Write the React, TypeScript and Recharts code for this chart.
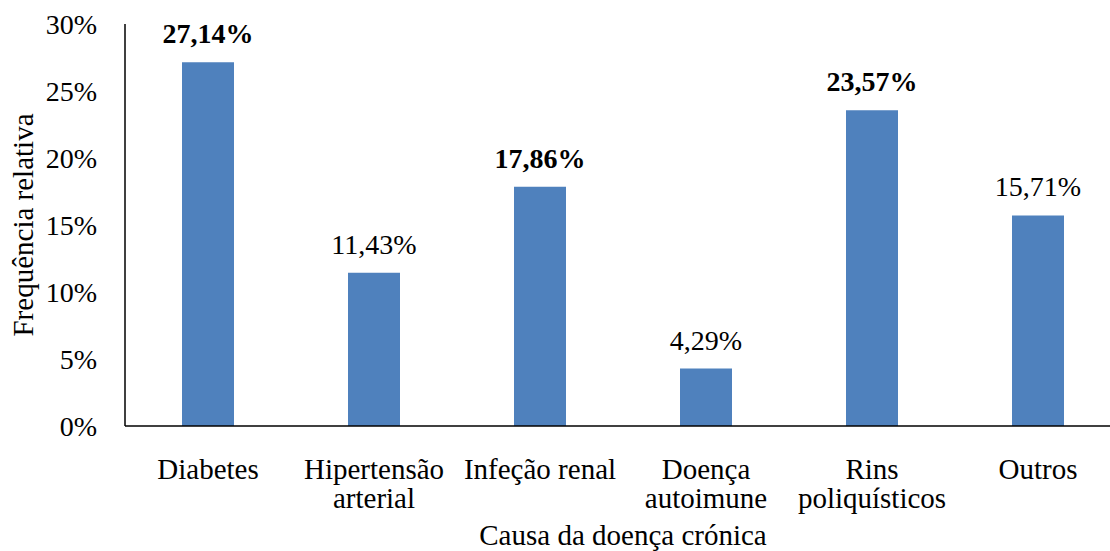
import React from "react";
import { BarChart, Bar, XAxis, YAxis, LabelList, Label } from "recharts";

const categories = [
  "Diabetes",
  "Hipertensão\narterial",
  "Infeção renal",
  "Doença\nautoimune",
  "Rins\npoliquísticos",
  "Outros",
];
const values = [27.14, 11.43, 17.86, 4.29, 23.57, 15.71];
const boldLabel = [true, false, true, false, true, false];
const yTicks = [0, 5, 10, 15, 20, 25, 30];
const yAxisTitle = "Frequência relativa";
const xAxisTitle = "Causa da doença crónica";

const data = categories.map((c, i) => ({ name: c, value: values[i] }));

const FONT = '"Liberation Serif", "Times New Roman", Times, serif';
const textStyle = { fontFamily: FONT, fontSize: 28, fill: "#000" };
const xStyle = { fontFamily: FONT, fontSize: 29, fill: "#000" };

const XTick = (props: any) => {
  const { x, y, payload } = props;
  const lines = String(payload.value).split("\n");
  return (
    <text x={x} y={y + 45} textAnchor="middle" style={xStyle}>
      {lines.map((l, i) => (
        <tspan key={i} x={x} dy={i === 0 ? 0 : 29}>
          {l}
        </tspan>
      ))}
    </text>
  );
};

const BarLabel = (props: any) => {
  const { x, y, width, value, index } = props;
  const bold = boldLabel[index];
  return (
    <text
      x={x + width / 2}
      y={y - 19}
      textAnchor="middle"
      style={{ ...textStyle, fontWeight: bold ? "bold" : "normal" }}
    >
      {Number(value).toFixed(2).replace(".", ",") + "%"}
    </text>
  );
};

export default function App() {
  return (
    <div
      style={{
        position: "absolute",
        left: 0,
        top: 0,
        width: 1110,
        height: 551,
        overflow: "hidden",
        background: "#fff",
        fontFamily: FONT,
      }}
    >
      <BarChart
        width={1121}
        height={551}
        data={data}
        margin={{ top: 24, right: 0, bottom: 0, left: 0 }}
        style={{ fontFamily: FONT }}
      >
        <XAxis
          dataKey="name"
          height={125}
          axisLine={{ stroke: "#000", strokeWidth: 1.5 }}
          tickLine={false}
          tick={<XTick />}
          interval={0}
        >
          <Label
            content={(p: any) => {
              const vb = p.viewBox;
              return (
                <text
                  x={vb.x + vb.width / 2}
                  y={vb.y + 119}
                  textAnchor="middle"
                  style={xStyle}
                >
                  {xAxisTitle}
                </text>
              );
            }}
          />
        </XAxis>
        <YAxis
          width={125}
          domain={[0, 30]}
          ticks={yTicks}
          tickFormatter={(v: number) => `${v}%`}
          axisLine={{ stroke: "#000", strokeWidth: 1.5 }}
          tickLine={false}
          tickSize={0}
          tickMargin={28}
          tick={{ style: textStyle, fontFamily: FONT, fontSize: 28, fill: "#000" }}
        >
          <Label
            content={(p: any) => {
              const vb = p.viewBox;
              const cx = vb.x + 33;
              const cy = vb.y + vb.height / 2;
              return (
                <text
                  x={cx}
                  y={cy}
                  transform={`rotate(-90, ${cx}, ${cy})`}
                  textAnchor="middle"
                  style={xStyle}
                >
                  {yAxisTitle}
                </text>
              );
            }}
          />
        </YAxis>
        <Bar dataKey="value" fill="#4F81BD" barSize={52} isAnimationActive={false}>
          <LabelList dataKey="value" content={<BarLabel />} />
        </Bar>
      </BarChart>
    </div>
  );
}
